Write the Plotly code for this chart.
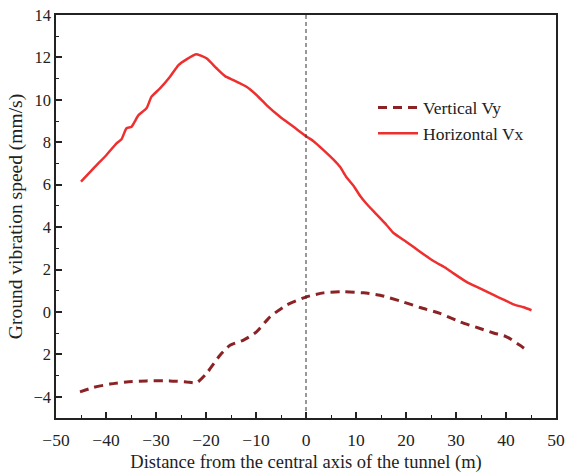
import plotly.graph_objects as go

# Horizontal Vx
hx = [-45, -42.5, -39.9, -37.9, -36.9, -35.9, -34.9, -33.5, -31.9, -30.9, -29.2, -27.2, -25.5, -23.9,
      -21.9, -19.9, -17.9, -16.2, -14.5, -11.9, -9.9, -7.9, -5.2, -2.5, 0.1, 1.5, 3.5, 5.5, 6.8, 8.1,
      9.5, 10.8, 12.1, 14.1, 16.1, 17.5, 20.1, 22.8, 25.5, 28.1, 29.5, 32.1, 34.8, 37.5, 39.5, 41.5, 43.5, 45.1]
hy = [6.14, 6.77, 7.4, 7.95, 8.14, 8.66, 8.73, 9.28, 9.6, 10.15, 10.54, 11.09, 11.64, 11.91,
      12.15, 11.96, 11.49, 11.12, 10.93, 10.62, 10.23, 9.75, 9.2, 8.73, 8.27, 8.05, 7.63, 7.18, 6.84, 6.35,
      5.95, 5.48, 5.1, 4.6, 4.1, 3.72, 3.3, 2.84, 2.4, 2.05, 1.82, 1.42, 1.11, 0.8, 0.58, 0.36, 0.22, 0.08]

# Vertical Vy
vx = [-45.2, -42.5, -39.2, -35.9, -31.9, -27.2, -23.9, -21.9, -19.9, -17.2, -15.2, -12.5, -9.9, -7.2,
      -3.9, 0.1, 3.5, 7.5, 11.5, 14.8, 18.8, 22.8, 26.8, 30.8, 34.8, 37.5, 40.1, 42.8, 44.5]
vy = [-3.77, -3.56, -3.4, -3.3, -3.25, -3.25, -3.3, -3.34, -2.9, -2.04, -1.57, -1.33, -0.94, -0.23,
      0.32, 0.71, 0.9, 0.95, 0.9, 0.79, 0.52, 0.21, -0.07, -0.47, -0.78, -0.99, -1.17, -1.57, -1.88]

xticks = [-50, -40, -30, -20, -10, 0, 10, 20, 30, 40, 50]
yticks = [14, 12, 10, 8, 6, 4, 2, 0, -2, -4]
ytext = ["14", "12", "10", "8", "6", "4", "2", "0", "2", "\u22124"]

font = "Liberation Serif, Times New Roman, serif"

fig = go.Figure()
fig.add_trace(go.Scatter(x=vx, y=vy, mode="lines", name="Vertical Vy",
                         line=dict(color="#8B2326", width=3, dash="9px,6px", shape="spline", smoothing=0.6)))
fig.add_trace(go.Scatter(x=hx, y=hy, mode="lines", name="Horizontal Vx",
                         line=dict(color="#EE2F2F", width=2.5, shape="spline", smoothing=0.5)))

fig.add_shape(type="line", xref="x", yref="paper", x0=0, x1=0, y0=0, y1=1,
              line=dict(color="#333333", width=1, dash="4px,3px"))

axis_common = dict(showline=True, linecolor="#222222", linewidth=1.5, mirror=True,
                   ticks="inside", ticklen=6, tickwidth=1.5, tickcolor="#222222",
                   showgrid=False, zeroline=False, automargin=False)

fig.update_layout(
    width=565, height=473,
    margin=dict(l=56, r=9, t=15, b=55),
    paper_bgcolor="white", plot_bgcolor="white",
    font=dict(family=font, color="#222222"),
    xaxis=dict(range=[-50, 50], tickvals=xticks, ticklabelstandoff=5,
               tickfont=dict(family=font, size=17.5, color="#222222"),
               minor=dict(ticks="inside", dtick=5, tick0=-50, ticklen=3, tickwidth=1.2, tickcolor="#222222"),
               title=dict(text="Distance from the central axis of the tunnel (m)",
                          font=dict(family=font, size=18.5), standoff=6),
               **axis_common),
    yaxis=dict(range=[-5, 14], tickvals=yticks, ticktext=ytext,
               tickfont=dict(family=font, size=16.5, color="#222222"),
               minor=dict(ticks="inside", dtick=1, tick0=0, ticklen=3, tickwidth=1.2, tickcolor="#222222"),
               title=dict(text="Ground vibration speed (mm/s)",
                          font=dict(family=font, size=19.5), standoff=6),
               **axis_common),
    legend=dict(x=0.634, y=0.815, xanchor="left", yanchor="top",
                bgcolor="rgba(0,0,0,0)", font=dict(family=font, size=17.5),
                itemwidth=40, tracegroupgap=0),
    showlegend=True,
)

fig.write_html("out.html")
